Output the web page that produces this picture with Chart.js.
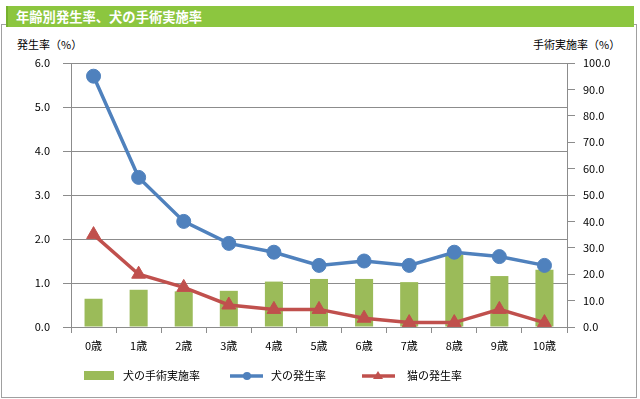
<!DOCTYPE html>
<html lang="ja">
<head>
<meta charset="utf-8">
<script src="https://cdn.jsdelivr.net/npm/chart.js@4.4.1/dist/chart.umd.min.js"></script>
<style>
  html, body { margin: 0; padding: 0; background: #fff; }
  #wrap { position: relative; width: 640px; height: 399px; overflow: hidden; font-family: "Noto Sans CJK JP", sans-serif; }
  #frame { position: absolute; left: 1px; top: 24px; width: 634px; height: 372px; border: 1px solid #a0a0a0; }
  #banner { position: absolute; left: 6px; top: 6px; width: 628px; height: 21px; background: #8cc63f; border-left: 2px solid #76b12e; box-sizing: border-box; }
  #banner span { position: absolute; left: 8px; top: 1px; color: #fff; font-weight: bold; font-size: 13.3px; line-height: 19px; }
  .axis-title { position: absolute; top: 36px; font-size: 11px; line-height: 16px; color: #000; }
  canvas { position: absolute; left: 0; top: 0; }
</style>
</head>
<body>
<div id="wrap">
  <div id="frame"></div>
  <div id="banner"><span>年齢別発生率、犬の手術実施率</span></div>
  <div class="axis-title" style="left:17px;">発生率（%）</div>
  <div class="axis-title" style="left:533px;">手術実施率（%）</div>
  <canvas id="chart" width="640" height="399"></canvas>
</div>
<script>
// 年齢カテゴリ
const ages = ['0歳', '1歳', '2歳', '3歳', '4歳', '5歳', '6歳', '7歳', '8歳', '9歳', '10歳'];
// 犬の手術実施率 (右軸, %)
const surgeryRate = [10.7, 14.1, 13.5, 13.7, 17.2, 18.2, 18.2, 17.0, 27.5, 19.3, 21.7];
// 犬の発生率 (左軸, %)
const dogRate = [5.7, 3.4, 2.4, 1.9, 1.7, 1.4, 1.5, 1.4, 1.7, 1.6, 1.4];
// 猫の発生率 (左軸, %)
const catRate = [2.1, 1.2, 0.9, 0.5, 0.4, 0.4, 0.2, 0.1, 0.1, 0.4, 0.1];

const GREEN = '#9bbb59';
const BLUE = '#4f81bd';
const RED = '#c0504d';
const AXIS = '#8c8c8c';
const FONT = '"Noto Sans CJK JP", sans-serif';

// legend drawn like Excel (line + marker)
const legendPlugin = {
  id: 'excelLegend',
  afterDraw(chart) {
    const ctx = chart.ctx;
    const y = 376;
    ctx.save();
    ctx.font = '11px ' + FONT;
    ctx.fillStyle = '#000';
    ctx.textBaseline = 'middle';

    // bar item
    ctx.fillStyle = GREEN;
    ctx.fillRect(84, 371, 30, 9);
    ctx.fillStyle = '#000';
    ctx.fillText(chart.data.datasets[0].label, 123, y);

    // dog line item
    ctx.strokeStyle = BLUE;
    ctx.lineWidth = 3.5;
    ctx.beginPath(); ctx.moveTo(230, y); ctx.lineTo(263, y); ctx.stroke();
    ctx.fillStyle = BLUE;
    ctx.beginPath(); ctx.arc(247, y, 4, 0, Math.PI * 2); ctx.fill();
    ctx.fillStyle = '#000';
    ctx.fillText(chart.data.datasets[1].label, 271, y);

    // cat line item
    ctx.strokeStyle = RED;
    ctx.beginPath(); ctx.moveTo(362, y); ctx.lineTo(395, y); ctx.stroke();
    ctx.fillStyle = RED;
    ctx.beginPath(); ctx.moveTo(378, y - 5); ctx.lineTo(383, y + 3); ctx.lineTo(373, y + 3); ctx.closePath(); ctx.fill();
    ctx.fillStyle = '#000';
    ctx.fillText(chart.data.datasets[2].label, 407, y);
    ctx.restore();
  }
};

new Chart(document.getElementById('chart').getContext('2d'), {
  type: 'bar',
  data: {
    labels: ages,
    datasets: [
      {
        type: 'bar',
        label: '犬の手術実施率',
        data: surgeryRate,
        yAxisID: 'yRight',
        backgroundColor: GREEN,
        categoryPercentage: 1.0,
        barPercentage: 0.4,
        order: 3
      },
      {
        type: 'line',
        label: '犬の発生率',
        data: dogRate,
        yAxisID: 'yLeft',
        borderColor: BLUE,
        backgroundColor: BLUE,
        borderWidth: 3.5,
        pointStyle: 'circle',
        pointRadius: 7,
        pointBorderWidth: 1,
        tension: 0,
        order: 2
      },
      {
        type: 'line',
        label: '猫の発生率',
        data: catRate,
        yAxisID: 'yLeft',
        borderColor: RED,
        backgroundColor: RED,
        borderWidth: 3.5,
        pointStyle: 'triangle',
        pointRadius: 8,
        pointBorderWidth: 1,
        tension: 0,
        order: 1
      }
    ]
  },
  options: {
    responsive: false,
    animation: false,
    layout: { padding: { top: 63, left: 0, right: 0, bottom: 0 } },
    plugins: {
      legend: { display: false },
      tooltip: { enabled: false }
    },
    scales: {
      x: {
        grid: { offset: true, drawOnChartArea: false, color: AXIS, tickLength: 6 },
        border: { color: AXIS },
        ticks: { color: '#000', font: { family: FONT, size: 11 }, padding: 6 },
        afterFit(scale) { scale.height = 72; }
      },
      yLeft: {
        position: 'left',
        min: 0,
        max: 6,
        ticks: {
          stepSize: 1,
          color: '#000',
          font: { family: FONT, size: 11 },
          padding: 13,
          callback: v => v.toFixed(1)
        },
        grid: { color: AXIS, tickLength: 8 },
        border: { color: AXIS },
        afterFit(scale) { scale.width = 71; }
      },
      yRight: {
        position: 'right',
        min: 0,
        max: 100,
        ticks: {
          stepSize: 10,
          color: '#000',
          font: { family: FONT, size: 11 },
          padding: 8,
          callback: v => v.toFixed(1)
        },
        grid: { drawOnChartArea: false, color: AXIS, tickLength: 8 },
        border: { color: AXIS },
        afterFit(scale) { scale.width = 73; }
      }
    }
  },
  plugins: [legendPlugin]
});
</script>
</body>
</html>
